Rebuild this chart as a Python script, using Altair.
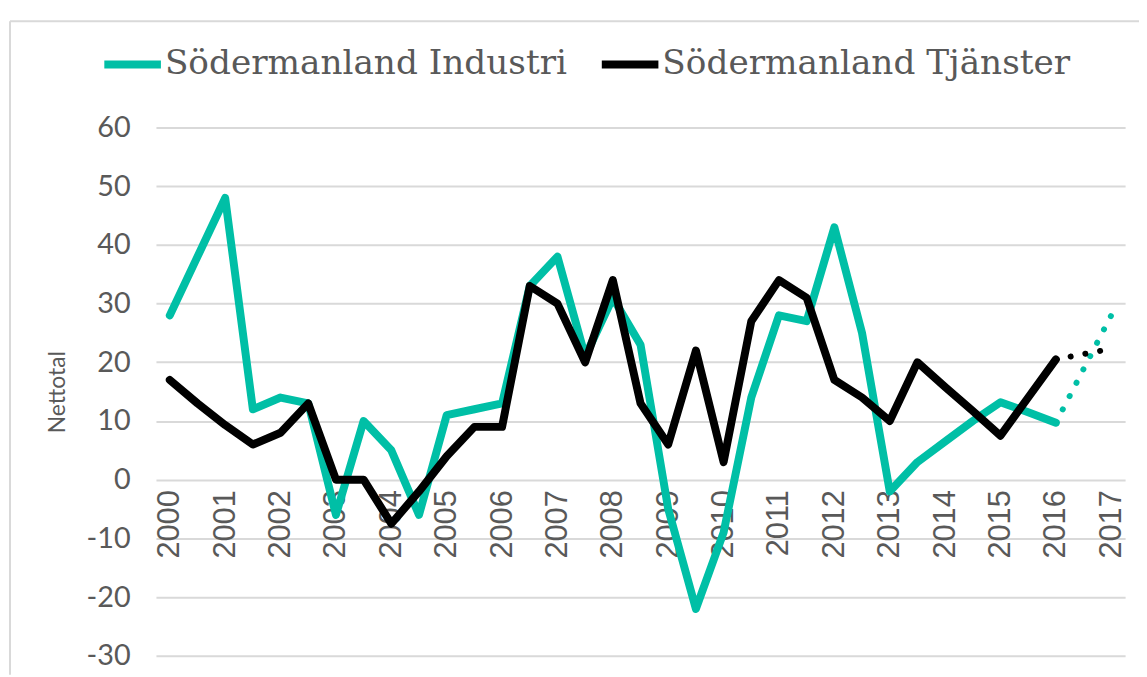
import altair as alt
import pandas as pd

# Half-year periods
periods = [2000, 2000.5, 2001, 2001.5, 2002, 2002.5, 2003, 2003.5, 2004, 2004.5,
           2005, 2005.5, 2006, 2006.5, 2007, 2007.5, 2008, 2008.5, 2009, 2009.5,
           2010, 2010.5, 2011, 2011.5, 2012, 2012.5, 2013, 2013.5, 2014, 2014.5,
           2015, 2015.5, 2016]

industri = [28, 38, 48, 12, 14, 13, -6, 10, 5, -6,
            11, 12, 13, 33, 38, 21, 31, 23, -5, -22,
            -9, 14, 28, 27, 43, 25, -2, 3, 6.5, 10,
            13.2, 11.5, 9.7]

tjanster = [17, 13, 9.3, 6, 8, 13, 0, 0, -7.5, -2,
            4, 9, 9, 33, 30, 20, 34, 13, 6, 22,
            3, 27, 34, 31, 17, 14, 10, 20, 15.8, 11.7,
            7.5, 14, 20.5]

# Forecast (dotted) segments
fc_periods = [2016, 2017]
fc_industri = [9.7, 28]
fc_tjanster = [20.5, 22.3]

series_names = ["Södermanland Industri", "Södermanland Tjänster"]
series_colors = ["#00BFA6", "#000000"]
year_ticks = list(range(2000, 2018))
y_ticks = list(range(-30, 70, 10))

solid = pd.DataFrame({
    "period": periods * 2,
    "value": industri + tjanster,
    "series": [series_names[0]] * len(periods) + [series_names[1]] * len(periods),
})
fc = pd.DataFrame({
    "period": fc_periods * 2,
    "value": fc_industri + fc_tjanster,
    "series": [series_names[0]] * len(fc_periods) + [series_names[1]] * len(fc_periods),
})

text_color = "#595959"
grid_color = "#D9D9D9"

x_scale = alt.Scale(domain=[1999.75, 2017.25], nice=False, zero=False)
y_scale = alt.Scale(domain=[-30, 60], nice=False, zero=False)

x_enc = alt.X(
    "period:Q", scale=x_scale,
    axis=alt.Axis(values=year_ticks, labelExpr="'' + datum.value", labelAngle=270,
                  title=None, grid=False, ticks=False, domain=False, offset=-177.3,
                  labelPadding=10, labelFont="Liberation Sans", labelFontSize=31,
                  labelColor=text_color, labelOverlap=False),
)
y_enc = alt.Y(
    "value:Q", scale=y_scale,
    axis=alt.Axis(values=y_ticks, labelExpr="'' + datum.value", title="Nettotal",
                  grid=True, gridColor=grid_color, gridWidth=2, ticks=False, domain=False,
                  labelPadding=26, labelFont="Lato", labelFontSize=29,
                  labelColor=text_color, titleFont="Lato", titleFontSize=23,
                  titleFontWeight="normal", titleColor=text_color,
                  titleAngle=270, titleX=-99, titleY=266, titleAlign="center",
                  titleBaseline="middle"),
)

color_scale = alt.Scale(domain=series_names, range=series_colors)

solid_layer = alt.Chart(solid).mark_line(
    strokeWidth=8, strokeCap="round", strokeJoin="round"
).encode(
    x=x_enc, y=y_enc,
    color=alt.Color("series:N", scale=color_scale, sort=series_names,
                    legend=alt.Legend(title=None, orient="none", direction="horizontal",
                                      legendX=-56, legendY=-96, symbolType="stroke",
                                      symbolSize=3249, symbolStrokeWidth=8,
                                      labelFont="DejaVu Serif", labelFontSize=34.5,
                                      labelColor=text_color, labelOffset=0,
                                      columnPadding=18, labelLimit=700)),
    order=alt.Order("period:Q"),
)

fc_layer = alt.Chart(fc).mark_line(
    strokeWidth=6, strokeCap="round", strokeDash=[0.1, 15]
).encode(
    x=alt.X("period:Q", scale=x_scale),
    y=alt.Y("value:Q", scale=y_scale),
    color=alt.Color("series:N", scale=color_scale, legend=None),
    detail="series:N",
)

frame = pd.DataFrame({"k": [0]})
border_top = alt.Chart(frame).mark_rule(color=grid_color, strokeWidth=2, clip=False).encode(
    x=alt.value(-147), x2=alt.value(990), y=alt.value(-107)
)
border_left = alt.Chart(frame).mark_rule(color=grid_color, strokeWidth=2, clip=False).encode(
    x=alt.value(-147), y=alt.value(-107), y2=alt.value(551)
)

chart = alt.layer(border_top, border_left, solid_layer, fc_layer).resolve_scale(
    color="independent"
).properties(
    width=976, height=532,
    padding={"left": 149, "top": 118, "right": 14, "bottom": 18},
    autosize=alt.AutoSizeParams(type="none"),
).configure_view(stroke=None)

chart.save("out.html", embed_options={"renderer": "svg", "actions": False})
